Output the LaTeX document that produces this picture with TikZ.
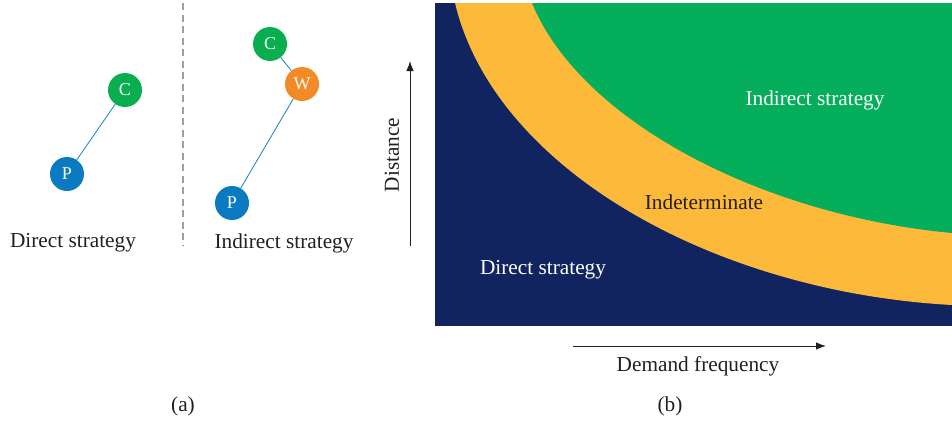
\documentclass[tikz,border=0pt]{standalone}
\usepackage{fontspec}
\setmainfont{Liberation Serif}
\definecolor{navy}{HTML}{11245F}
\definecolor{amber}{HTML}{FDB93A}
\definecolor{leaf}{HTML}{05AE5B}
\definecolor{cgreen}{HTML}{0BAE4E}
\definecolor{worange}{HTML}{F28A25}
\definecolor{pblue}{HTML}{0A7BC1}
\definecolor{linkblue}{HTML}{2A8AD0}
\definecolor{ink}{HTML}{231F20}
\tikzset{
  site/.style={circle, minimum size=34pt, inner sep=0pt, text=white,
    font=\fontsize{18}{21}\selectfont},
  link/.style={draw=linkblue, line width=0.9pt},
  label/.style={font=\fontsize{21.3}{25}\selectfont, text=ink, inner sep=0pt},
  axis/.style={draw=ink, line width=1pt, -{Latex[length=10pt,width=7.5pt]}}
}
\usetikzlibrary{arrows.meta}
\begin{document}
\begin{tikzpicture}[x=1pt,y=-1pt]
\useasboundingbox (0,0) rectangle (952,421);
% (a) direct and indirect layouts
\draw[draw=gray!75, line width=1.3pt, dash pattern=on 7pt off 4.5pt] (183,3) -- (183,245);
\node[site, fill=cgreen] (c1) at (125,90) {C};
\node[site, fill=pblue] (p1) at (67,174) {P};
\draw[link] (p1) -- (c1);
\node[site, fill=cgreen] (c2) at (270,44) {C};
\node[site, fill=worange] (w2) at (302,84) {W};
\node[site, fill=pblue] (p2) at (232,203) {P};
\draw[link] (c2) -- (w2);
\draw[link] (w2) -- (p2);
\node[label] (ld) at (73,243) {Direct strategy};
\node[label] (li) at (284,243) {Indirect strategy};
% (b) strategy regions
\fill[navy] (435,3) rectangle (952,326);
\fill[amber] (455,3) .. controls (495,170) and (715,292) .. (952,305) -- (952,3) -- cycle;
\fill[leaf] (532,3) .. controls (580,120) and (760,215) .. (952,233) -- (952,3) -- cycle;
\node[label, text=white] (ri) at (815,100) {Indirect strategy};
\node[label] (rm) at (704,202) {Indeterminate};
\node[label, text=white] (rd) at (543,270) {Direct strategy};
% axes
\coordinate (y0) at (410,246);
\coordinate (y1) at (410,61);
\draw[axis] (y0) -- (y1);
\node[label, rotate=90] (ylab) at (392,155) {Distance};
\coordinate (x0) at (573,346);
\coordinate (x1) at (826,346);
\draw[axis] (x0) -- (x1);
\node[label] (xlab) at (698,366) {Demand frequency};
\node[label] (capa) at (183,406) {(a)};
\node[label] (capb) at (670,406) {(b)};
\end{tikzpicture}
\end{document}
